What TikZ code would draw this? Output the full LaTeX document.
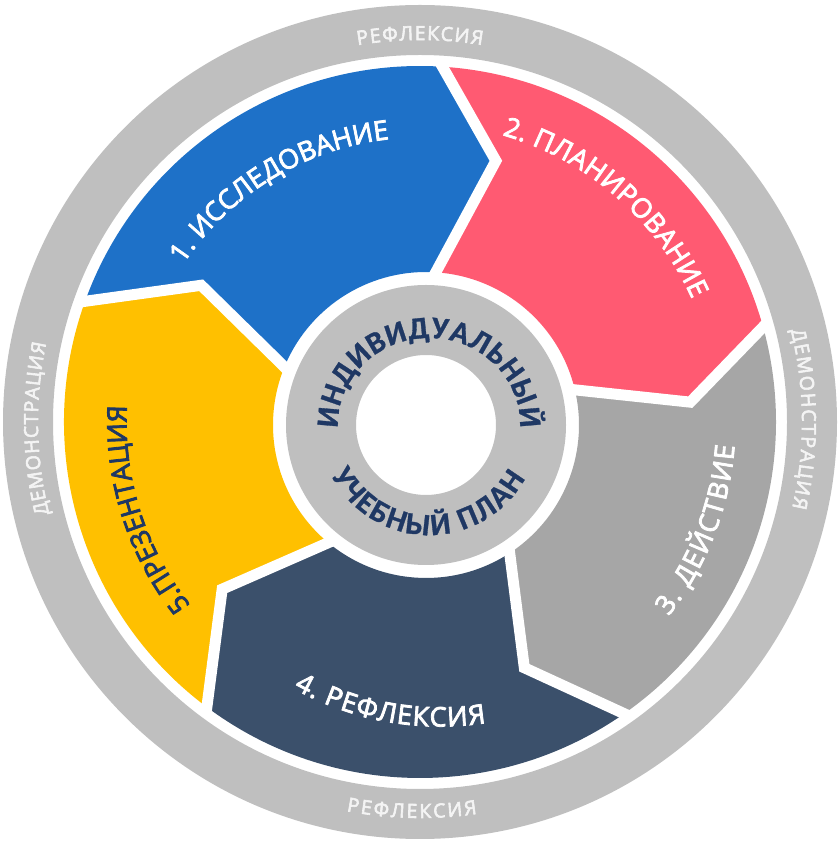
\documentclass[tikz,border=0pt]{standalone}
\usepackage{fontspec}
\setmainfont{Open Sans}
\newfontfamily\carl{Carlito}
\usetikzlibrary{decorations.text}
\definecolor{ringgray}{RGB}{191,191,191}
\definecolor{cblue}{RGB}{30,113,200}
\definecolor{cpink}{RGB}{255,90,114}
\definecolor{cgray}{RGB}{166,166,166}
\definecolor{cnavy}{RGB}{59,80,107}
\definecolor{cyellow}{RGB}{255,192,0}
\definecolor{ctext}{RGB}{31,56,100}
\definecolor{ringtext}{RGB}{244,244,244}
\newcommand\strk[1]{\special{pdf:literal direct 2 Tr #1 w}}
\newcommand\segfontW{\fontsize{27}{27}\selectfont\color{white}\strk{0.8}}
\newcommand\segfontN{\fontsize{27}{27}\selectfont\color{ctext}\strk{0.8}}
\newcommand\ringfont{\fontsize{19.5}{19.5}\selectfont\color{ringtext}\strk{0.6}}
\newcommand\centfont{\carl\bfseries\fontsize{31}{31}\selectfont\color{ctext}\strk{0.3}}
\begin{document}
\begin{tikzpicture}[x=1pt,y=1pt,
  gapline/.style={white, line width=11pt, line join=miter},
  arctext/.style={decorate, decoration={text along path, text align={fit to path}, text={#1}}}]
\useasboundingbox (0,0) rectangle (839,846);
\coordinate (O) at (420,424);
\coordinate (I) at (426,421);
\coordinate (C4) at (440,421);
\coordinate (T) at (429,421);

% segments
\fill[cblue] ([shift={(O)}]161:356pt) arc[start angle=161, end angle=87.4, radius=356pt]
  -- ([shift={(O)}]73.8:272pt) -- ([shift={(I)}]87.8:153pt)
  arc[start angle=87.8, end angle=159, radius=153pt]
  -- ([shift={(O)}]148:258pt) -- cycle;
\fill[cpink] ([shift={(O)}]87.4:356pt) arc[start angle=87.4, end angle=16.4, radius=356pt]
  -- ([shift={(O)}]4.2:271pt) -- ([shift={(I)}]14.4:153pt)
  arc[start angle=14.4, end angle=87.8, radius=153pt]
  -- ([shift={(O)}]73.8:272pt) -- cycle;
\fill[cgray] ([shift={(O)}]16.4:356pt) arc[start angle=16.4, end angle=-54.1, radius=356pt]
  -- ([shift={(O)}]-67:267pt) -- ([shift={(I)}]-55.3:153pt)
  arc[start angle=-55.3, end angle=14.4, radius=153pt]
  -- ([shift={(O)}]4.2:271pt) -- cycle;
\fill[cnavy] ([shift={(O)}]-54.1:356pt) arc[start angle=-54.1, end angle=-125.9, radius=356pt]
  -- ([shift={(O)}]-139.8:259pt) -- ([shift={(I)}]-128.1:153pt)
  arc[start angle=-128.1, end angle=-55.3, radius=153pt]
  -- ([shift={(O)}]-67:267pt) -- cycle;
\fill[cyellow] ([shift={(O)}]-125.9:356pt) arc[start angle=-125.9, end angle=-199, radius=356pt]
  -- ([shift={(O)}]-212:258pt) -- ([shift={(I)}]-201:153pt)
  arc[start angle=-201, end angle=-128.1, radius=153pt]
  -- ([shift={(O)}]-139.8:259pt) -- cycle;

% white gaps between segments
\draw[gapline] ([shift={(O)}]161:366pt) -- ([shift={(O)}]148:258pt) -- ([shift={(I)}]159:145pt);
\draw[gapline] ([shift={(O)}]87.4:366pt) -- ([shift={(O)}]73.8:272pt) -- ([shift={(I)}]87.8:145pt);
\draw[gapline] ([shift={(O)}]16.4:366pt) -- ([shift={(O)}]4.2:271pt) -- ([shift={(I)}]14.4:145pt);
\draw[gapline] ([shift={(O)}]-54.1:366pt) -- ([shift={(O)}]-67:267pt) -- ([shift={(I)}]-55.3:145pt);
\draw[gapline] ([shift={(O)}]-125.9:366pt) -- ([shift={(O)}]-139.8:259pt) -- ([shift={(I)}]-128.1:145pt);

% outer ring and inner ring
\fill[ringgray, even odd rule] (O) circle[radius=417pt] (O) circle[radius=367pt];
\fill[ringgray, even odd rule] (I) circle[radius=140pt] (I) circle[radius=70pt];

% ring texts
\path[arctext={|\ringfont|РЕФЛЕКСИЯ}] ([shift={(O)}]99.4:382pt) arc[start angle=99.4, end angle=80.6, radius=382pt];
\path[arctext={|\ringfont|РЕФЛЕКСИЯ}] ([shift={(O)}]-100.7:396pt) arc[start angle=-100.7, end angle=-81.7, radius=396pt];
\path[arctext={|\ringfont|ДЕМОНСТРАЦИЯ}] ([shift={(O)}]193.9:382pt) arc[start angle=193.9, end angle=168.1, radius=382pt];
\path[arctext={|\ringfont|ДЕМОНСТРАЦИЯ}] ([shift={(O)}]13.9:382pt) arc[start angle=13.9, end angle=-13, radius=382pt];

% segment labels
\path[arctext={|\segfontW|1. ИССЛЕДОВАНИЕ}] ([shift={(O)}]146.3:284.5pt) arc[start angle=146.3, end angle=96.2, radius=284.5pt];
\path[arctext={|\segfontW|2. ПЛАНИРОВАНИЕ}] ([shift={(O)}]74:298.5pt) arc[start angle=74, end angle=24.3, radius=298.5pt];
\path[arctext={|\segfontW|3. ДЕЙСТВИЕ}] ([shift={(O)}]-38:315.5pt) arc[start angle=-38, end angle=-4.3, radius=315.5pt];
\path[arctext={|\segfontW|4. РЕФЛЕКСИЯ}] ([shift={(C4)}]-119:301.5pt) arc[start angle=-119, end angle=-81.2, radius=301.5pt];
\path[arctext={|\segfontN|5.ПРЕЗЕНТАЦИЯ}] ([shift={(O)}]218.6:293.5pt) arc[start angle=218.6, end angle=176.8, radius=293.5pt];

% centre texts
\path[arctext={|\centfont|ИНДИВИДУАЛЬНЫЙ}] ([shift={(T)}]182:91pt and 87pt) arc[start angle=182, end angle=-2, x radius=91pt, y radius=87pt];
\path[arctext={|\centfont|УЧЕБНЫЙ ПЛАН}] ([shift={(T)}]-153:110pt) arc[start angle=-153, end angle=-29, radius=110pt];
\end{tikzpicture}
\end{document}
